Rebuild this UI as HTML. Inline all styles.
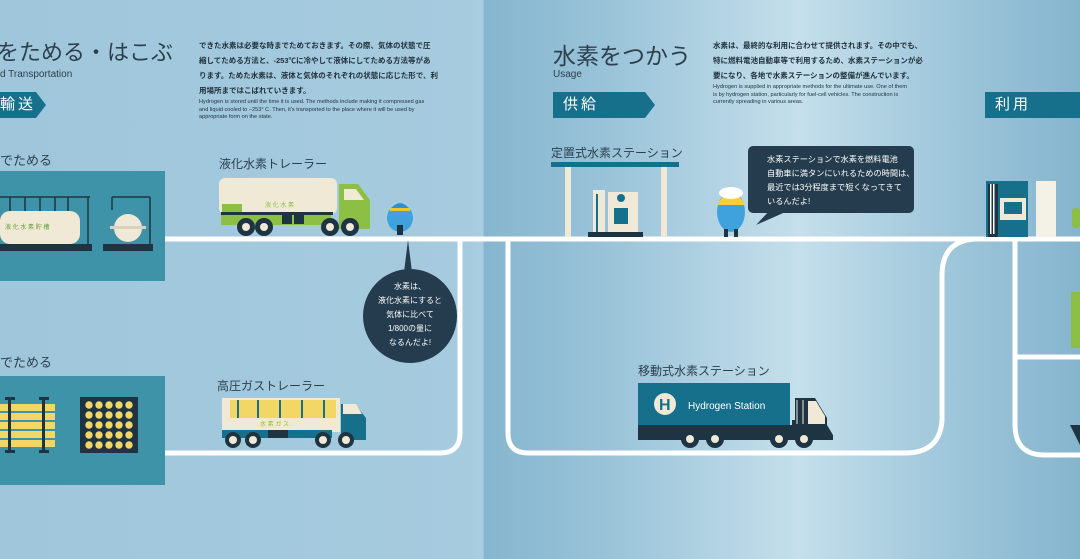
<!DOCTYPE html>
<html><head><meta charset="utf-8"><style>
*{margin:0;padding:0;box-sizing:border-box}
body{width:1080px;height:559px;overflow:hidden;position:relative;font-family:"Liberation Sans","Noto Sans CJK JP",sans-serif;color:#1f3a4d}
.bg{position:absolute;inset:0;background:linear-gradient(90deg,#9fc6db 0,#a6cbdf 470px,#aacde0 483px,#86b6cf 484px,#98c2d8 600px,#c5dfeb 800px,#a3c9dc 930px,#85b5ce 1080px)}
.a{position:absolute}
.tag{position:absolute;background:#16708c;color:#fff;font-size:15px;line-height:26px;padding-left:10px;letter-spacing:3px}
.tag:after{content:"";position:absolute;right:-10px;top:0;border-left:10px solid #16708c;border-top:13px solid transparent;border-bottom:13px solid transparent}
.p{font-size:7.5px;line-height:15px;color:#1f2f3a;white-space:nowrap;font-weight:bold}
.e{font-size:5.6px;line-height:7.5px;color:#1f2f3a;white-space:nowrap}
.lb{font-size:12px;color:#2b3f4c}
</style></head><body>
<div class="bg"></div>
<svg class="a" style="left:0;top:0" width="1080" height="559">
<g fill="none" stroke="#fff" stroke-width="5">
<line x1="160" y1="239" x2="1080" y2="239"/>
<path d="M160 453 H440 Q460 453 460 433 V239"/>
<path d="M508 239 V433 Q508 453 528 453 H905 Q940 453 942 420 V275 Q942 241 975 239"/>
<path d="M1015 239 V425 Q1015 455 1045 455 H1080"/>
<line x1="1015" y1="357" x2="1080" y2="357"/>
</g>
<rect x="0" y="171" width="165" height="110" fill="#3e93a8"/>
<rect x="0" y="376" width="165" height="109" fill="#3e93a8"/>
<g stroke="#1e3443" stroke-width="1.5">
<line x1="0" y1="197" x2="90" y2="197"/><line x1="10" y1="197" x2="10" y2="213"/><line x1="25" y1="197" x2="25" y2="213"/><line x1="40" y1="197" x2="40" y2="213"/><line x1="55" y1="197" x2="55" y2="213"/><line x1="68" y1="197" x2="68" y2="213"/><line x1="88" y1="197" x2="88" y2="248"/>
<line x1="112" y1="197" x2="150" y2="197"/><line x1="112" y1="197" x2="112" y2="210"/><line x1="150" y1="197" x2="150" y2="248"/>
</g>
<rect x="0" y="211" width="80" height="33" rx="10" fill="#efe9d6"/>
<text x="5" y="229" font-size="6" fill="#6a9a3a">液 化 水 素 貯 槽</text>
<circle cx="128" cy="228" r="14" fill="#efe9d6"/><rect x="110" y="226" width="36" height="3" fill="#d9d2bd"/>
<rect x="0" y="244" width="92" height="7" fill="#1e3443"/><rect x="103" y="244" width="50" height="7" fill="#1e3443"/>
<g fill="#f2d766"><rect x="0" y="404" width="55" height="7"/><rect x="0" y="413" width="55" height="7"/><rect x="0" y="422" width="55" height="7"/><rect x="0" y="431" width="55" height="7"/><rect x="0" y="440" width="55" height="7"/></g>
<g fill="#1e3443"><rect x="8" y="397" width="3" height="56"/><rect x="42" y="397" width="3" height="56"/><rect x="5" y="397" width="10" height="3"/><rect x="39" y="397" width="10" height="3"/><rect x="5" y="450" width="10" height="3"/><rect x="39" y="450" width="10" height="3"/>
<rect x="80" y="397" width="58" height="56"/></g>
<g fill="#f2d766">
<circle cx="89" cy="405" r="3.7"/><circle cx="99" cy="405" r="3.7"/><circle cx="109" cy="405" r="3.7"/><circle cx="119" cy="405" r="3.7"/><circle cx="129" cy="405" r="3.7"/>
<circle cx="89" cy="415" r="3.7"/><circle cx="99" cy="415" r="3.7"/><circle cx="109" cy="415" r="3.7"/><circle cx="119" cy="415" r="3.7"/><circle cx="129" cy="415" r="3.7"/>
<circle cx="89" cy="425" r="3.7"/><circle cx="99" cy="425" r="3.7"/><circle cx="109" cy="425" r="3.7"/><circle cx="119" cy="425" r="3.7"/><circle cx="129" cy="425" r="3.7"/>
<circle cx="89" cy="435" r="3.7"/><circle cx="99" cy="435" r="3.7"/><circle cx="109" cy="435" r="3.7"/><circle cx="119" cy="435" r="3.7"/><circle cx="129" cy="435" r="3.7"/>
<circle cx="89" cy="445" r="3.7"/><circle cx="99" cy="445" r="3.7"/><circle cx="109" cy="445" r="3.7"/><circle cx="119" cy="445" r="3.7"/><circle cx="129" cy="445" r="3.7"/>
</g>
<rect x="219" y="178" width="118" height="36" rx="6" fill="#efe9d6"/>
<rect x="222" y="204" width="20" height="8" fill="#8dbf45"/>
<text x="265" y="207" font-size="6" fill="#8dbf45">液 化 水 素</text>
<rect x="221" y="212" width="112" height="3" fill="#1e3443"/>
<rect x="221" y="215" width="110" height="10" fill="#8dbf45"/>
<path d="M339 184 H358 L370 200 V229 H339Z" fill="#8dbf45"/><path d="M344 189 H356 L364 200 H344Z" fill="#efe9d6"/>
<rect x="282" y="215" width="10" height="9" fill="#1e3443"/><rect x="294" y="215" width="10" height="9" fill="#1e3443"/>
<g fill="#1e3443"><circle cx="246" cy="227" r="9"/><circle cx="264" cy="227" r="9"/><circle cx="330" cy="227" r="9"/><circle cx="350" cy="227" r="9"/></g>
<g fill="#efe9d6"><circle cx="246" cy="227" r="4"/><circle cx="264" cy="227" r="4"/><circle cx="330" cy="227" r="4"/><circle cx="350" cy="227" r="4"/></g>
<ellipse cx="400" cy="218" rx="13" ry="14" fill="#3fa2dc"/><path d="M390 210 Q400 196 410 210Z" fill="#2c8fd0"/><rect x="390" y="208" width="20" height="3" fill="#e9c533"/><rect x="397" y="225" width="6" height="10" fill="#1e3443"/>
<path d="M408 240 L404 272 L412 272Z" fill="#243c4d"/>
<circle cx="410" cy="316" r="47" fill="#243c4d"/>
<rect x="222" y="398" width="118" height="34" fill="#efe9d6"/>
<rect x="230" y="400" width="106" height="18" fill="#f2d766"/>
<g fill="#16708c"><rect x="237" y="400" width="2" height="18"/><rect x="257" y="400" width="2" height="18"/><rect x="279" y="400" width="2" height="18"/><rect x="301" y="400" width="2" height="18"/><rect x="323" y="400" width="2" height="18"/></g>
<text x="260" y="426" font-size="6" fill="#8dbf45">水 素 ガ ス</text>
<rect x="222" y="430" width="110" height="8" fill="#16708c"/>
<path d="M341 404 H355 L366 418 V440 H341Z" fill="#16708c"/><path d="M343 404 H356 L362 414 H343Z" fill="#efe9d6"/>
<rect x="268" y="430" width="20" height="8" fill="#1e3443"/>
<g fill="#1e3443"><circle cx="233" cy="440" r="8"/><circle cx="253" cy="440" r="8"/><circle cx="323" cy="440" r="8"/><circle cx="346" cy="440" r="8"/></g>
<g fill="#efe9d6"><circle cx="233" cy="440" r="4"/><circle cx="253" cy="440" r="4"/><circle cx="323" cy="440" r="4"/><circle cx="346" cy="440" r="4"/></g>
<rect x="551" y="162" width="128" height="5" fill="#16708c"/>
<rect x="565" y="167" width="6" height="70" fill="#efe9d6"/><rect x="661" y="167" width="6" height="70" fill="#efe9d6"/>
<rect x="608" y="192" width="30" height="42" fill="#efe9d6"/><rect x="593" y="190" width="12" height="44" fill="#efe9d6"/>
<rect x="596" y="194" width="2" height="38" fill="#16708c"/><rect x="614" y="208" width="14" height="16" fill="#16708c"/><circle cx="621" cy="198" r="4" fill="#16708c"/>
<rect x="588" y="232" width="55" height="5" fill="#1e3443"/>
<ellipse cx="731" cy="212" rx="14" ry="20" fill="#3fa2dc"/><path d="M717 205 Q731 180 745 205Z" fill="#f2d333"/><ellipse cx="731" cy="193" rx="12" ry="6" fill="#fff"/>
<rect x="724" y="229" width="4" height="8" fill="#1e3443"/><rect x="734" y="229" width="4" height="8" fill="#1e3443"/>
<rect x="748" y="146" width="166" height="67" rx="5" fill="#243c4d"/><path d="M770 210 L756 225 L790 210Z" fill="#243c4d"/>
<rect x="986" y="181" width="42" height="56" fill="#16708c"/><rect x="988" y="184" width="10" height="53" fill="#1e3443"/>
<g fill="#fff"><rect x="990" y="184" width="1.5" height="50"/><rect x="993" y="184" width="1.5" height="50"/></g>
<rect x="1000" y="198" width="26" height="22" fill="#efe9d6"/><rect x="1004" y="202" width="18" height="12" fill="#16708c"/>
<rect x="1036" y="181" width="20" height="56" fill="#f4f1e6"/>
<rect x="1072" y="208" width="8" height="20" rx="3" fill="#8dbf45"/>
<rect x="1071" y="292" width="9" height="56" fill="#8dbf45"/>
<path d="M1070 425 L1080 425 L1080 445Z" fill="#1e3443"/>
<rect x="638" y="383" width="152" height="42" fill="#16708c"/>
<circle cx="665" cy="404" r="11" fill="#efe9d6"/>
<text x="659" y="410" font-size="16" font-weight="bold" fill="#16708c">H</text><text x="672" y="416" font-size="6" fill="#16708c">2</text>
<text x="688" y="409" font-size="10" fill="#fff">Hydrogen Station</text>
<path d="M638 425 H792 V420 H824 L833 435 V440 H638Z" fill="#1e3443"/>
<path d="M795 398 H815 L827 418 V436 H795Z" fill="#1e3443"/><path d="M808 401 H816 L825 416 V424 H808Z" fill="#efe9d6"/>
<g stroke="#efe9d6" stroke-width="1"><line x1="797" y1="400" x2="797" y2="424"/><line x1="803" y1="400" x2="803" y2="424"/></g>
<g fill="#1e3443"><circle cx="690" cy="439" r="9"/><circle cx="715" cy="439" r="9"/><circle cx="779" cy="439" r="9"/><circle cx="804" cy="439" r="9"/></g>
<g fill="#efe9d6"><circle cx="690" cy="439" r="4"/><circle cx="715" cy="439" r="4"/><circle cx="779" cy="439" r="4"/><circle cx="804" cy="439" r="4"/></g>
</svg>

<div class="a" style="left:-3px;top:35px;font-size:22px;color:#2b3f4c;white-space:nowrap">をためる・はこぶ</div>
<div class="a" style="left:0;top:69px;font-size:10px;color:#2b3f4c">d Transportation</div>
<div class="tag" style="left:0;top:92px;width:36px;padding-left:0">輸送</div>
<div class="a lb" style="left:0;top:150px;font-size:13px">でためる</div>
<div class="a lb" style="left:0;top:352px;font-size:13px">でためる</div>
<div class="a p" style="left:199px;top:38px">できた水素は必要な時までためておきます。その際、気体の状態で圧<br>縮してためる方法と、-253℃に冷やして液体にしてためる方法等があ<br>ります。ためた水素は、液体と気体のそれぞれの状態に応じた形で、利<br>用場所まではこばれていきます。</div>
<div class="a e" style="left:199px;top:99px">Hydrogen is stored until the time it is used. The methods include making it compressed gas<br>and liquid cooled to −253° C. Then, it's transported to the place where it will be used by<br>appropriate form on the state.</div>
<div class="a lb" style="left:219px;top:155px">液化水素トレーラー</div>
<div class="a lb" style="left:217px;top:377px">高圧ガストレーラー</div>
<div class="a" style="left:370px;top:280px;width:80px;text-align:center;color:#fff;font-size:8px;line-height:14px">水素は、<br>液化水素にすると<br>気体に比べて<br>1/800の量に<br>なるんだよ!</div>

<div class="a" style="left:553px;top:37px;font-size:23px;color:#2b3f4c;white-space:nowrap">水素をつかう</div>
<div class="a" style="left:553px;top:69px;font-size:10px;color:#2b3f4c">Usage</div>
<div class="tag" style="left:553px;top:92px;width:92px">供給</div>
<div class="tag" style="left:985px;top:92px;width:95px">利用</div>
<div class="a p" style="left:713px;top:38px">水素は、最終的な利用に合わせて提供されます。その中でも、<br>特に燃料電池自動車等で利用するため、水素ステーションが必<br>要になり、各地で水素ステーションの整備が進んでいます。</div>
<div class="a e" style="left:713px;top:84px">Hydrogen is supplied in appropriate methods for the ultimate use. One of them<br>is by hydrogen station, particularly for fuel-cell vehicles. The construction is<br>currently spreading in various areas.</div>
<div class="a lb" style="left:551px;top:144px">定置式水素ステーション</div>
<div class="a lb" style="left:638px;top:362px">移動式水素ステーション</div>
<div class="a" style="left:767px;top:153px;color:#fff;font-size:8.2px;line-height:14px;white-space:nowrap">水素ステーションで水素を燃料電池<br>自動車に満タンにいれるための時間は、<br>最近では3分程度まで短くなってきて<br>いるんだよ!</div>
</body></html>
